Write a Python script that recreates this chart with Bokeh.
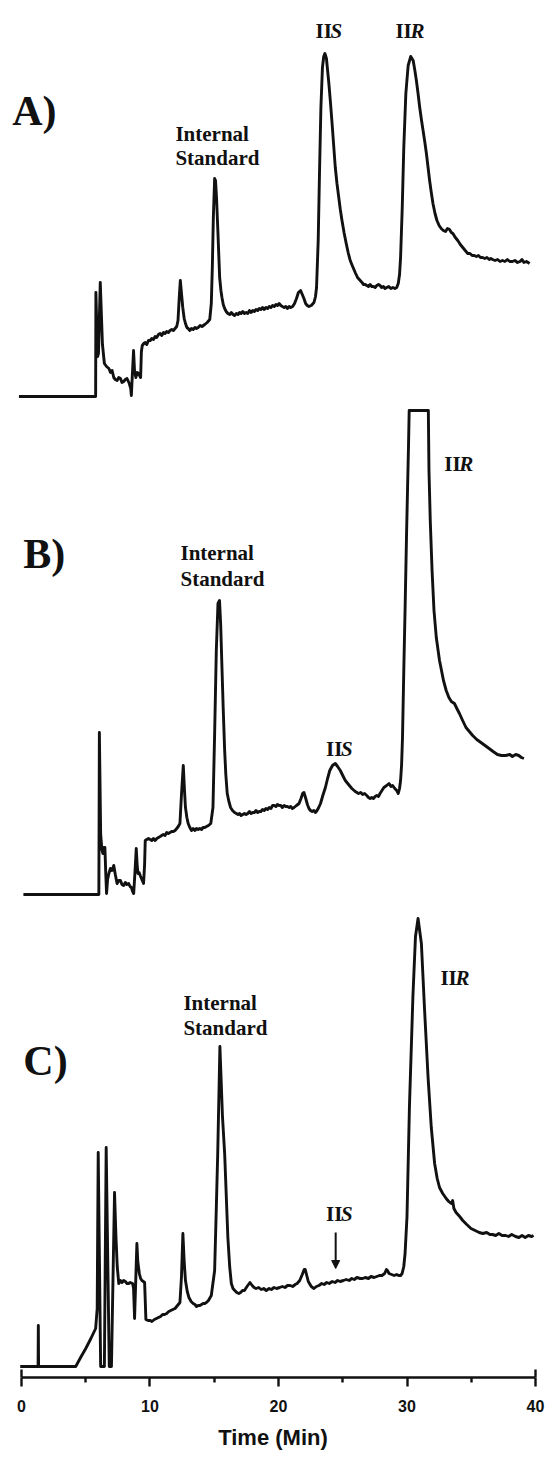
from bokeh.plotting import figure
from bokeh.layouts import column
from bokeh.models import Range1d, Label, LinearAxis, FixedTicker, Arrow, NormalHead
from bokeh.embed import file_html
from bokeh.resources import INLINE

# ---------------- data (time in min, detector signal in arbitrary units) ----------------
tick_values = [0, 10, 20, 30, 40]
minor_tick_values = [5, 15, 25, 35]
tick_labels = ["0", "10", "20", "30", "40"]
x_label = "Time (Min)"

a_time = [-0.20, 5.77, 5.79, 5.92, 5.99, 6.13, 6.30, 6.45, 6.62, 6.80, 6.93, 7.05, 7.18, 7.30, 7.44, 7.57, 7.70, 7.82, 7.95, 8.08,
          8.21, 8.39, 8.50, 8.55, 8.62, 8.72, 8.80, 8.90, 9.00, 9.11, 9.27, 9.33, 9.40, 9.52, 9.63, 9.75, 9.88, 10.02, 10.14, 10.27,
          10.40, 10.52, 10.66, 10.79, 10.92, 11.05, 11.17, 11.30, 11.43, 11.56, 11.69, 11.82, 11.95, 12.08, 12.18, 12.28, 12.36, 12.45, 12.55, 12.66,
          12.76, 12.87, 12.97, 13.10, 13.23, 13.36, 13.50, 13.62, 13.75, 13.90, 14.05, 14.26, 14.45, 14.65, 14.77, 14.85, 14.93, 15.03, 15.10, 15.18,
          15.29, 15.42, 15.52, 15.60, 15.70, 15.81, 15.93, 16.06, 16.20, 16.33, 16.46, 16.58, 16.72, 16.85, 16.97, 17.09, 17.22, 17.35, 17.48, 17.61,
          17.74, 17.87, 18.00, 18.12, 18.25, 18.38, 18.50, 18.63, 18.76, 18.89, 19.02, 19.15, 19.28, 19.41, 19.54, 19.67, 19.80, 19.92, 20.05, 20.18,
          20.30, 20.44, 20.57, 20.70, 20.83, 20.95, 21.10, 21.25, 21.40, 21.55, 21.72, 21.85, 21.98, 22.11, 22.24, 22.37, 22.55, 22.76, 22.88, 22.96,
          23.09, 23.19, 23.30, 23.42, 23.52, 23.61, 23.73, 23.92, 24.05, 24.17, 24.30, 24.42, 24.55, 24.69, 24.81, 24.94, 25.10, 25.27, 25.42, 25.58,
          25.77, 25.97, 26.15, 26.36, 26.50, 26.62, 26.75, 26.87, 27.00, 27.13, 27.26, 27.39, 27.52, 27.65, 27.78, 27.90, 28.03, 28.16, 28.29, 28.42,
          28.58, 28.74, 28.90, 29.06, 29.20, 29.32, 29.42, 29.50, 29.63, 29.75, 29.91, 30.09, 30.29, 30.48, 30.60, 30.73, 30.86, 30.99, 31.12, 31.25,
          31.38, 31.51, 31.64, 31.76, 31.89, 32.02, 32.18, 32.33, 32.50, 32.66, 32.83, 33.00, 33.15, 33.31, 33.45, 33.57, 33.76, 33.95, 34.15, 34.34,
          34.53, 34.73, 34.90, 35.07, 35.24, 35.40, 35.56, 35.72, 35.88, 36.05, 36.22, 36.40, 36.53, 36.66, 36.85, 37.05, 37.24, 37.43, 37.62, 37.81,
          38.00, 38.20, 38.40, 38.60, 38.80, 38.95, 39.10, 39.30, 39.54]
a_signal = [0, 0, 104, 40, 43, 114, 52, 33, 30, 28, 24, 26, 19, 17, 16, 19, 18, 14, 15, 17,
            18, 13, 8, 1, 20, 46, 25, 19, 24, 23, 19, 45, 51, 53, 54, 52, 56, 56, 58, 57,
            60, 59, 62, 63, 61, 64, 63, 65, 64, 66, 67, 66, 68, 70, 76, 100, 116, 103, 89, 78,
            73, 69, 68, 66, 68, 67, 69, 68, 69, 71, 70, 72, 74, 77, 93, 129, 179, 218, 216, 198,
            163, 119, 106, 99, 92, 88, 85, 83, 82, 84, 82, 81, 83, 82, 84, 83, 85, 83, 84, 83,
            86, 84, 86, 85, 87, 86, 88, 87, 89, 87, 89, 88, 90, 89, 91, 90, 92, 91, 93, 91,
            90, 89, 90, 88, 90, 89, 90, 93, 98, 104, 106, 102, 98, 93, 91, 90, 91, 94, 100, 109,
            156, 223, 289, 329, 340, 343, 338, 313, 293, 273, 250, 229, 213, 199, 187, 176, 164, 153, 144, 136,
            130, 124, 119, 116, 114, 112, 112, 111, 110, 112, 110, 110, 109, 111, 112, 111, 109, 110, 108, 109,
            110, 108, 109, 108, 109, 113, 122, 139, 189, 249, 303, 331, 340, 336, 327, 316, 303, 289, 277, 266,
            255, 243, 229, 216, 204, 193, 183, 176, 171, 168, 166, 165, 168, 167, 164, 163, 159, 156, 152, 149,
            146, 143, 143, 141, 141, 140, 141, 139, 139, 138, 139, 137, 138, 137, 136, 137, 135, 136, 135, 137,
            135, 135, 136, 134, 135, 137, 134, 135, 133]

b_time = [0.15, 6.02, 6.06, 6.16, 6.25, 6.33, 6.40, 6.49, 6.56, 6.62, 6.70, 6.80, 6.92, 7.05, 7.18, 7.30, 7.44, 7.57, 7.70, 7.82,
          7.95, 8.08, 8.20, 8.34, 8.45, 8.55, 8.65, 8.73, 8.82, 8.93, 9.00, 9.06, 9.15, 9.24, 9.37, 9.50, 9.58, 9.63, 9.75, 9.88,
          10.02, 10.14, 10.27, 10.40, 10.53, 10.66, 10.79, 10.91, 11.04, 11.17, 11.30, 11.43, 11.56, 11.69, 11.82, 11.95, 12.08, 12.20, 12.33, 12.45,
          12.59, 12.68, 12.76, 12.87, 12.97, 13.10, 13.23, 13.36, 13.50, 13.62, 13.75, 13.88, 14.01, 14.13, 14.26, 14.40, 14.55, 14.73, 14.90, 15.03,
          15.16, 15.29, 15.41, 15.50, 15.60, 15.70, 15.81, 15.90, 16.01, 16.14, 16.27, 16.42, 16.58, 16.72, 16.85, 16.97, 17.09, 17.22, 17.35, 17.48,
          17.61, 17.74, 17.87, 18.00, 18.12, 18.25, 18.38, 18.50, 18.63, 18.76, 18.89, 19.02, 19.15, 19.28, 19.41, 19.54, 19.67, 19.80, 19.92, 20.05,
          20.18, 20.30, 20.44, 20.57, 20.69, 20.83, 20.95, 21.08, 21.21, 21.40, 21.60, 21.75, 21.88, 21.98, 22.10, 22.25, 22.37, 22.49, 22.62, 22.75,
          22.88, 23.00, 23.13, 23.27, 23.45, 23.65, 23.82, 23.99, 24.20, 24.42, 24.60, 24.81, 25.00, 25.20, 25.45, 25.71, 25.97, 26.23, 26.40, 26.55,
          26.70, 26.87, 27.00, 27.13, 27.26, 27.39, 27.52, 27.65, 27.78, 27.90, 28.05, 28.20, 28.42, 28.60, 28.75, 28.88, 29.05, 29.20, 29.32, 29.42,
          29.50, 29.58, 29.65, 29.75, 29.86, 29.96, 30.05, 30.12, 30.17, 31.66, 31.71, 31.81, 31.95, 32.10, 32.28, 32.53, 32.84, 33.05, 33.26, 33.45,
          33.69, 33.88, 34.08, 34.33, 34.59, 34.85, 35.11, 35.43, 35.75, 36.07, 36.39, 36.70, 37.04, 37.35, 37.68, 38.00, 38.20, 38.46, 38.70, 38.90,
          39.10]
b_signal = [0, 0, 162, 61, 45, 41, 47, 47, 20, 1, 15, 21, 26, 24, 29, 20, 11, 14, 14, 10,
            9, 12, 10, 11, 8, 7, 3, 1, 20, 46, 30, 21, 22, 19, 15, 11, 30, 54, 55, 56,
            55, 54, 56, 54, 56, 57, 58, 59, 60, 59, 62, 61, 62, 63, 63, 64, 66, 68, 71, 100,
            129, 105, 87, 77, 71, 67, 64, 66, 64, 66, 65, 66, 65, 67, 67, 68, 69, 71, 87, 161,
            244, 291, 294, 270, 227, 185, 144, 120, 101, 93, 87, 84, 82, 81, 80, 81, 79, 80, 81, 80,
            81, 83, 81, 82, 82, 84, 82, 83, 83, 85, 84, 86, 85, 87, 86, 89, 89, 88, 90, 89,
            89, 87, 89, 88, 88, 87, 88, 86, 87, 89, 91, 96, 101, 102, 97, 90, 86, 84, 83, 84,
            82, 84, 87, 91, 99, 107, 116, 124, 129, 131, 128, 124, 119, 114, 110, 106, 103, 101, 102, 100,
            101, 99, 97, 96, 97, 96, 98, 99, 98, 101, 104, 107, 109, 111, 108, 109, 106, 104, 101, 106,
            114, 130, 157, 224, 291, 357, 410, 450, 484, 484, 424, 374, 324, 284, 257, 234, 214, 204, 197, 193,
            191, 186, 181, 174, 167, 163, 159, 155, 152, 149, 146, 143, 140, 139, 139, 140, 138, 140, 139, 137,
            136]

c_time = [-0.10, 1.29, 1.31, 1.33, 4.22, 4.60, 5.00, 5.40, 5.77, 5.89, 5.97, 6.16, 6.45, 6.59, 6.83, 7.00, 7.24, 7.35, 7.45, 7.57,
          7.70, 7.82, 7.95, 8.08, 8.21, 8.34, 8.45, 8.65, 8.72, 8.80, 8.90, 8.98, 9.05, 9.17, 9.27, 9.37, 9.48, 9.58, 9.62, 9.68,
          9.85, 10.02, 10.15, 10.34, 10.50, 10.66, 10.82, 10.98, 11.14, 11.30, 11.46, 11.62, 11.78, 11.95, 12.14, 12.33, 12.45, 12.56, 12.66, 12.76,
          12.90, 13.03, 13.20, 13.36, 13.50, 13.62, 13.75, 13.88, 14.01, 14.14, 14.26, 14.39, 14.55, 14.77, 15.03, 15.17, 15.27, 15.44, 15.64, 15.81,
          16.06, 16.20, 16.33, 16.46, 16.60, 16.75, 16.91, 17.05, 17.20, 17.35, 17.55, 17.78, 17.95, 18.10, 18.25, 18.46, 18.65, 18.85, 19.05, 19.27,
          19.45, 19.65, 19.85, 20.09, 20.30, 20.50, 20.70, 20.91, 21.10, 21.30, 21.45, 21.65, 21.85, 22.00, 22.08, 22.20, 22.32, 22.41, 22.55, 22.76,
          22.95, 23.15, 23.36, 23.55, 23.75, 23.95, 24.18, 24.40, 24.60, 24.80, 25.05, 25.27, 25.50, 25.70, 25.90, 26.10, 26.36, 26.55, 26.75, 27.00,
          27.20, 27.44, 27.65, 27.85, 28.05, 28.26, 28.40, 28.48, 28.60, 28.80, 29.00, 29.20, 29.35, 29.50, 29.62, 29.75, 29.85, 30.00, 30.19, 30.46,
          30.66, 30.86, 31.12, 31.37, 31.64, 31.89, 32.15, 32.35, 32.53, 32.78, 33.05, 33.25, 33.44, 33.55, 33.65, 33.82, 34.10, 34.34, 34.65, 34.98,
          35.30, 35.62, 35.90, 36.20, 36.45, 36.66, 36.90, 37.15, 37.40, 37.68, 37.90, 38.15, 38.45, 38.71, 38.95, 39.20, 39.45, 39.70, 39.85]
c_signal = [0, 0, 41, 0, 0, 9, 18, 28, 38, 58, 214, 0, 0, 219, 0, 0, 174, 130, 100, 83,
            86, 84, 86, 85, 83, 83, 84, 83, 78, 48, 90, 123, 105, 93, 88, 86, 85, 84, 70, 47,
            46, 46, 45, 47, 48, 49, 50, 52, 52, 53, 55, 56, 57, 58, 61, 64, 90, 133, 105, 86,
            75, 69, 65, 63, 62, 60, 61, 61, 62, 63, 63, 64, 66, 71, 96, 163, 213, 320, 250, 213,
            129, 100, 83, 78, 76, 74, 73, 74, 76, 76, 80, 84, 81, 79, 78, 79, 77, 78, 76, 78,
            77, 79, 78, 79, 80, 79, 81, 81, 80, 82, 83, 86, 92, 97, 97, 91, 85, 83, 80, 78,
            80, 81, 83, 82, 84, 83, 85, 84, 86, 85, 86, 87, 86, 88, 87, 89, 88, 88, 89, 88,
            90, 89, 90, 91, 91, 93, 97, 96, 93, 92, 91, 92, 91, 91, 93, 100, 113, 150, 260, 370,
            430, 448, 423, 356, 289, 239, 203, 188, 179, 173, 168, 165, 163, 166, 158, 154, 150, 146, 142, 138,
            136, 134, 133, 134, 132, 132, 131, 133, 131, 131, 130, 132, 130, 129, 131, 129, 131, 130, 131]

# ---------------- layout ----------------
SERIF = "Liberation Serif"
SANS = "Liberation Sans"
INK = "#111111"
W = 545
x_range = Range1d(-1.634, 40.778)


def panel(height, y0, y1, border_bottom=0):
    p = figure(width=W, height=height, x_range=x_range, y_range=Range1d(y0, y1),
               output_backend="svg", toolbar_location=None,
               x_axis_location=None, y_axis_location=None,
               min_border_left=0, min_border_right=0, min_border_top=0,
               min_border_bottom=border_bottom)
    p.grid.visible = False
    p.outline_line_color = None
    p.background_fill_color = "white"
    p.border_fill_color = "white"
    return p


def text(p, x, y, s, size, style="bold", font=SERIF, x_offset=0, align="left"):
    p.add_layout(Label(x=x, y=y, text=s, text_font=font, text_font_style=style,
                       text_font_size=size, text_color=INK, text_align=align,
                       text_baseline="alphabetic", x_offset=x_offset))


def compound(p, x, y, letter):
    text(p, x, y, "II", "21px")
    text(p, x, y, letter, "21px", style="bold italic", x_offset=15)


def trace(p, t, s):
    p.line(t, s, line_width=2.9, line_color=INK, line_join="round")


# Panel A
pa = panel(404, -8, 396)
trace(pa, a_time, a_signal)
text(pa, -0.72, 286, "A)", "42px")
text(pa, 11.98, 263, "Internal", "21px")
text(pa, 11.98, 239, "Standard", "21px")
compound(pa, 22.88, 366, "S")
compound(pa, 29.10, 366, "R")

# Panel B
pb = panel(501, -11, 490)
trace(pb, b_time, b_signal)
text(pb, 0.14, 341, "B)", "42px")
text(pb, 12.37, 342, "Internal", "21px")
text(pb, 12.37, 316, "Standard", "21px")
compound(pb, 23.70, 146, "S")
compound(pb, 32.90, 431, "R")

# Panel C with the time axis
pc = panel(548, -11, 461, border_bottom=76)
trace(pc, c_time, c_signal)
text(pc, 0.14, 306, "C)", "42px")
text(pc, 12.60, 364, "Internal", "21px")
text(pc, 12.60, 339, "Standard", "21px")
compound(pc, 23.70, 153, "S")
compound(pc, 32.60, 389, "R")
pc.add_layout(Arrow(end=NormalHead(size=8, fill_color=INK, line_color=INK, line_width=1),
                    x_start=24.45, y_start=134, x_end=24.45, y_end=98,
                    line_width=2, line_color=INK))

axis = LinearAxis(ticker=FixedTicker(ticks=tick_values, minor_ticks=minor_tick_values),
                  major_label_overrides={v: l for v, l in zip(tick_values, tick_labels)},
                  bounds=(tick_values[0], tick_values[-1]))
axis.axis_line_width = 2.4
axis.axis_line_color = INK
axis.major_tick_line_width = 2.4
axis.major_tick_line_color = INK
axis.minor_tick_line_width = 2.4
axis.minor_tick_line_color = INK
axis.major_tick_out = 9
axis.major_tick_in = 0
axis.minor_tick_out = 5
axis.minor_tick_in = 0
axis.major_label_standoff = 13
axis.major_label_text_font = SANS
axis.major_label_text_font_style = "bold"
axis.major_label_text_font_size = "16px"
axis.major_label_text_color = INK
axis.axis_label = x_label
axis.axis_label_standoff = 10
axis.axis_label_text_font = SANS
axis.axis_label_text_font_style = "bold"
axis.axis_label_text_font_size = "22px"
axis.axis_label_text_color = INK
pc.add_layout(axis, "below")

# end caps of the time axis (upward marks at first and last tick)
ends = [tick_values[0], tick_values[-1]]
pc.segment(x0=ends, y0=[-11, -11], x1=ends, y1=[-3, -3], line_width=2.4, line_color=INK)

layout = column(pa, pb, pc, spacing=0)
open("out.html", "w").write(file_html(layout, INLINE, title="Chromatograms"))
